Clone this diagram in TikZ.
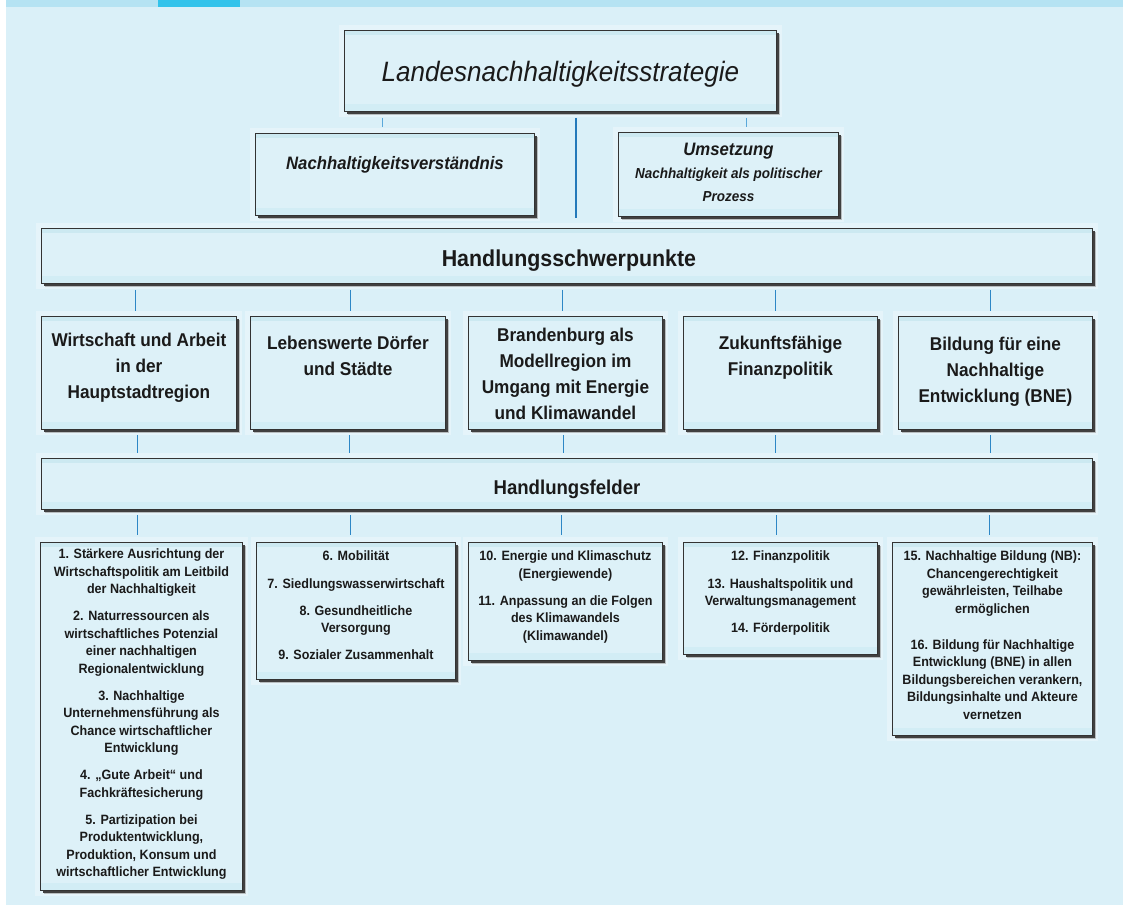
\documentclass[tikz,border=0pt]{standalone}
\usepackage{fontspec}
\setmainfont{Liberation Sans}[FakeStretch=0.93]
\usetikzlibrary{shadows,calc}
\definecolor{bg}{HTML}{DAF0F8}
\definecolor{halo}{HTML}{E5F4FA}
\definecolor{boxfill}{HTML}{DDF1F8}
\definecolor{bandtop}{HTML}{CCE9F1}
\definecolor{bandbot}{HTML}{D2EDF5}
\definecolor{boxline}{HTML}{333333}
\definecolor{conn}{HTML}{2D87C6}
\definecolor{connthin}{HTML}{5AA8DA}
\definecolor{central}{HTML}{2379BA}
\definecolor{txtc}{HTML}{1A1A1A}
\definecolor{hdr}{HTML}{B5E3F3}
\definecolor{hdrdark}{HTML}{32C3EB}
\tikzset{
  box/.style={draw=boxline, line width=0.9pt, fill=boxfill, inner sep=0pt, anchor=north west,
    preaction={draw=halo, line width=11pt},
    drop shadow={shadow xshift=4pt, shadow yshift=-4pt, fill=black!40, opacity=0.6},
    drop shadow={shadow xshift=2.5pt, shadow yshift=-2.5pt, fill=black!75, opacity=1},
    path picture={
      \fill[bandtop] ([yshift=-0.5pt]path picture bounding box.north west) rectangle ([yshift=-5pt]path picture bounding box.north east);
      \fill[bandbot] ([yshift=7pt]path picture bounding box.south west) rectangle (path picture bounding box.south east);
    }},
  txt/.style={text=txtc, align=center, inner sep=0pt, anchor=north},
  midtxt/.style={txt, font=\fontsize{18.5}{26}\selectfont\bfseries},
  smalltxt/.style={txt, font=\fontsize{13.5}{17.5}\selectfont\bfseries},
  tick/.style={draw=conn, line width=1.8pt},
  tickthin/.style={draw=connthin, line width=1.2pt},
  centralline/.style={draw=central, line width=2.2pt},
}
\begin{document}
\begin{tikzpicture}[x=1pt,y=-1pt]
\useasboundingbox (0,0) rectangle (1123,905);
\fill[white] (0,0) rectangle (1123,905);
\fill[bg] (6,0) rectangle (1123,905);
\fill[hdr] (6,0) rectangle (1123,7);
\fill[hdrdark] (158,0) rectangle (240,7);

% top level
\node[box, minimum width=432pt, minimum height=81pt] (top) at (344,30) {};
\node[txt, anchor=base, font=\fontsize{28}{30}\selectfont\itshape] (toptxt) at ($(top.north)+(0,51)$) {Landesnachhaltigkeitsstrategie};

\node[box, minimum width=279pt, minimum height=82pt] (L) at (255,133) {};
\node[txt, anchor=base, font=\fontsize{18}{22}\selectfont\bfseries\itshape] (Ltxt) at ($(L.north)+(0,36)$) {Nachhaltigkeitsverständnis};

\node[box, minimum width=220pt, minimum height=84pt] (R) at (618,132) {};
\node[txt, anchor=base, font=\fontsize{18}{22}\selectfont\bfseries\itshape] (Rtxt1) at ($(R.north)+(0,23)$) {Umsetzung};
\node[txt, font=\fontsize{14.5}{23}\selectfont\bfseries\itshape] (Rtxt2) at ($(R.north)+(0,36)$) {Nachhaltigkeit als politischer\\Prozess};

\coordinate (tl) at ([xshift=-12.5pt]L.north);
\coordinate (tr) at ([xshift=18pt]R.north);
\draw[tickthin, shorten <=6pt, shorten >=6pt] (top.south -| tl) -- (tl);
\draw[tickthin, shorten <=6pt, shorten >=5pt] (top.south -| tr) -- (tr);

% Handlungsschwerpunkte
\node[box, minimum width=1051pt, minimum height=55pt] (hs) at (41,228) {};
\node[txt, anchor=base, font=\fontsize{23}{26}\selectfont\bfseries] (hstxt) at ($(hs.north)+(2,38)$) {Handlungsschwerpunkte};

\coordinate (cc) at (576,0);
\draw[centralline, shorten <=6pt, shorten >=10pt] (top.south -| cc) -- (hs.north -| cc);

% middle boxes
\node[box, minimum width=195pt, minimum height=113pt] (m1) at (41,316) {};
\node[box, minimum width=195pt, minimum height=113pt] (m2) at (250,316) {};
\node[box, minimum width=194pt, minimum height=113pt] (m3) at (468,316) {};
\node[box, minimum width=194pt, minimum height=113pt] (m4) at (683,316) {};
\node[box, minimum width=194pt, minimum height=113pt] (m5) at (898,316) {};
\node[midtxt] (m1t) at ($(m1.north)+(0,17)$) {Wirtschaft und Arbeit\\in der\\Hauptstadtregion};
\node[midtxt] (m2t) at ($(m2.north)+(0,20)$) {Lebenswerte Dörfer\\und Städte};
\node[midtxt] (m3t) at ($(m3.north)+(0,12)$) {Brandenburg als\\Modellregion im\\Umgang mit Energie\\und Klimawandel};
\node[midtxt] (m4t) at ($(m4.north)+(0,20)$) {Zukunftsfähige\\Finanzpolitik};
\node[midtxt] (m5t) at ($(m5.north)+(0,20.5)$) {Bildung für eine\\Nachhaltige\\Entwicklung (BNE)};

\coordinate (a1) at ([xshift=-3.5pt]m1.north);
\coordinate (a2) at ([xshift=2.5pt]m2.north);
\coordinate (a3) at ([xshift=-3pt]m3.north);
\coordinate (a4) at ([xshift=-5pt]m4.north);
\coordinate (a5) at ([xshift=-5pt]m5.north);
\foreach \i in {1,...,5}{
  \draw[tick, shorten <=6pt, shorten >=5pt] (hs.south -| a\i) -- (a\i);
}

% Handlungsfelder
\node[box, minimum width=1051pt, minimum height=51pt] (hf) at (41,458) {};
\node[txt, anchor=base, font=\fontsize{20}{24}\selectfont\bfseries] (hftxt) at ($(hf.north)+(0,36)$) {Handlungsfelder};

\coordinate (b1) at ([xshift=-1.5pt]m1.south);
\coordinate (b2) at ([xshift=1.5pt]m2.south);
\coordinate (b3) at ([xshift=-2pt]m3.south);
\coordinate (b4) at ([xshift=-5pt]m4.south);
\coordinate (b5) at ([xshift=-5pt]m5.south);
\foreach \i in {1,...,5}{
  \draw[tick, shorten <=5pt, shorten >=5pt] (b\i) -- (hf.north -| b\i);
}

% bottom boxes
\node[box, minimum width=202pt, minimum height=348pt] (f1) at (40,542) {};
\node[box, minimum width=199pt, minimum height=137pt] (f2) at (256,542) {};
\node[box, minimum width=194pt, minimum height=118pt] (f3) at (468,542) {};
\node[box, minimum width=194pt, minimum height=112pt] (f4) at (683,542) {};
\node[box, minimum width=200pt, minimum height=193pt] (f5) at (892,542) {};

\node[smalltxt] (f1t) at ($(f1.north)+(0,7)$) {1. Stärkere Ausrichtung der\\Wirtschaftspolitik am Leitbild\\der Nachhaltigkeit\\[9.5pt]
2. Naturressourcen als\\wirtschaftliches Potenzial\\einer nachhaltigen\\Regionalentwicklung\\[9.5pt]
3. Nachhaltige\\Unternehmensführung als\\Chance wirtschaftlicher\\Entwicklung\\[9.5pt]
4. „Gute Arbeit“ und\\Fachkräftesicherung\\[9.5pt]
5. Partizipation bei\\Produktentwicklung,\\Produktion, Konsum und\\wirtschaftlicher Entwicklung};
\node[smalltxt] (f2t) at ($(f2.north)+(0,9)$) {6. Mobilität\\[10pt]7. Siedlungswasserwirtschaft\\[9.5pt]8. Gesundheitliche\\Versorgung\\[9.5pt]9. Sozialer Zusammenhalt};
\node[smalltxt] (f3t) at ($(f3.north)+(0,9)$) {10. Energie und Klimaschutz\\(Energiewende)\\[9.5pt]11. Anpassung an die Folgen\\des Klimawandels\\(Klimawandel)};
\node[smalltxt] (f4t) at ($(f4.north)+(0,9)$) {12. Finanzpolitik\\[10pt]13. Haushaltspolitik und\\Verwaltungsmanagement\\[9.5pt]14. Förderpolitik};
\node[smalltxt] (f5t) at ($(f5.north)+(0,9)$) {15. Nachhaltige Bildung (NB):\\Chancengerechtigkeit\\gewährleisten, Teilhabe\\ermöglichen\\[18.5pt]16. Bildung für Nachhaltige\\Entwicklung (BNE) in allen\\Bildungsbereichen verankern,\\Bildungsinhalte und Akteure\\vernetzen};

\coordinate (c1) at ([xshift=-4pt]f1.north);
\coordinate (c2) at ([xshift=-5.5pt]f2.north);
\coordinate (c3) at ([xshift=-4pt]f3.north);
\coordinate (c4) at ([xshift=-4pt]f4.north);
\coordinate (c5) at ([xshift=-3pt]f5.north);
\foreach \i in {1,...,5}{
  \draw[tick, shorten <=5pt, shorten >=7pt] (hf.south -| c\i) -- (c\i);
}
\end{tikzpicture}
\end{document}
